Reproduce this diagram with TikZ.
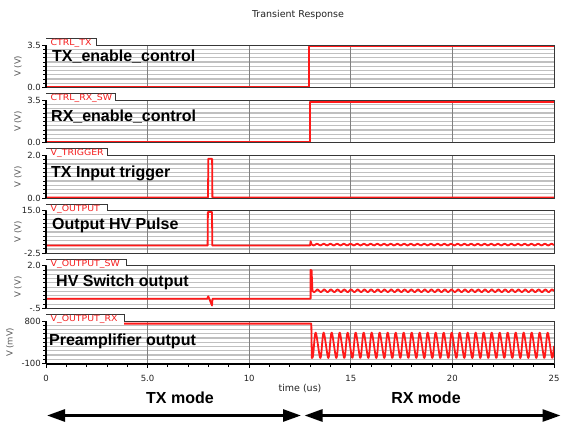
\documentclass[tikz,border=0pt]{standalone}
\usepackage{fontspec}
\setmainfont{Liberation Sans}
\newfontfamily\smallf{DejaVu Sans}
\usetikzlibrary{arrows.meta}
\definecolor{tracec}{RGB}{255,25,25}
\definecolor{gridc}{RGB}{192,192,192}
\definecolor{vgridc}{RGB}{128,128,128}
\definecolor{framec}{RGB}{55,55,55}
\definecolor{tagc}{RGB}{245,30,30}
\definecolor{txtc}{RGB}{35,35,35}
\definecolor{ylc}{RGB}{90,90,90}
\begin{document}
\begin{tikzpicture}[x=1pt,y=-1pt,
  trace/.style={draw=tracec,line width=1.8pt,line join=round},
  hgrid/.style={draw=gridc,line width=1.2pt},
  vgrid/.style={draw=vgridc,line width=0.8pt},
  frame/.style={draw=framec,line width=0.9pt},
  axisl/.style={draw=black,line width=1.8pt},
  tickl/.style={draw=black,line width=0.9pt},
  tagtxt/.style={text=tagc,font=\smallf\fontsize{8.5}{9}\selectfont,inner sep=0pt,anchor=base west,xscale=1.1},
  ticklbl/.style={text=txtc,font=\smallf\fontsize{8.5}{10}\selectfont,inner sep=0pt,anchor=east},
  xticklbl/.style={text=txtc,font=\smallf\fontsize{8.5}{10}\selectfont,inner sep=0pt,anchor=center},
  plabel/.style={font=\bfseries\fontsize{16}{19}\selectfont,inner sep=0pt,anchor=base west},
  ylbl/.style={text=ylc,font=\smallf\fontsize{8.5}{10}\selectfont,rotate=90,inner sep=0pt},
  modelbl/.style={font=\bfseries\fontsize{16}{19}\selectfont,inner sep=0pt,anchor=base},
  smalltxt/.style={text=txtc,font=\smallf\fontsize{9.5}{11}\selectfont,inner sep=0pt},
  modearrow/.style={draw=black,line width=2.8pt,{Triangle[length=18pt,width=12pt]}-{Triangle[length=18pt,width=12pt]}}
]
\useasboundingbox[fill=white] (0,0) rectangle (562,423);

% grids
\foreach \pT in {45,100.2,155.4,210.6,265.8,321}{
  \foreach \i in {1,...,9}{\draw[hgrid] (46,\pT+\i*4.26) -- (554,\pT+\i*4.26);}
  \foreach \t in {5,10,15,20}{\draw[vgrid] ({46+20.32*\t},\pT) -- ({46+20.32*\t},\pT+42.6);}
}

% traces (plot variable = number of ripple cycles)
\draw[trace] (46,87.1) -- (309.2,87.1) -- (309.2,46.5) -- (554,46.5);
\draw[trace] (46,142.3) -- (310.3,142.3) -- (310.3,102.2) -- (554,102.2);
\draw[trace] (46,197.5) -- (208,197.5) -- (208.3,158.8) -- (212.1,158.8) -- (212.4,197.5) -- (554,197.5);
\draw[trace] (46,245.5) -- (207.6,245.5) -- (207.9,212) -- (212,212) -- (212.3,245.5) -- (310,245.5)
  -- (310.6,241.3) -- (311.6,244.4) -- plot[domain=0:36.12,samples=300] ({312+6.7*\x},{244.6+0.8*sin(360*\x)});
\draw[trace] (46,298.7) -- (207.3,298.7) -- (208.2,296.3) -- (209.3,298.7) -- (211.2,303.5) -- (212,305.5)
  -- (212.5,298.7) -- (310.6,298.7) -- (310.6,269.8) -- (311.6,270.5) -- (312.3,288)
  -- plot[domain=0:36.04,samples=300] ({312.5+6.7*\x},{290.8+1.3*sin(360*\x)});
\draw[trace] (124,323.6) -- (311.3,323.6) -- (311.8,358)
  -- plot[domain=0:30.25,samples=520] ({312+8.0*\x},{345.3+12.2*cos(360*\x)+1.8*sin(720*(\x-floor(\x)))});

% frames, tags, axes
\foreach \k/\pT/\pR/\ptag/\pmax/\pmin/\pyl/\pylx in {
  1/45/96/{CTRL\_TX}/3.5/0.0/{V (V)}/18,
  2/100.2/115/{CTRL\_RX\_SW}/3.5/0.0/{V (V)}/18,
  3/155.4/107/{V\_TRIGGER}/2.0/0.0/{V (V)}/18,
  4/210.6/107/{V\_OUTPUT}/15.0/-2.5/{V (V)}/18,
  5/265.8/126/{V\_OUTPUT\_SW}/2.0/-.5/{V (V)}/18,
  6/321/124/{V\_OUTPUT\_RX}/800/-100/{V (mV)}/10}{
  \draw[frame] (46,\pT) rectangle (554,\pT+42.6);
  \fill[white] (46.5,\pT-6.5) rectangle (\pR,\pT+2);
  \draw[frame] (46,\pT-6.5) -- (\pR,\pT-6.5) -- (\pR,\pT);
  \node[tagtxt] (tag\k) at (50.5,\pT+0.5) {\ptag};
  \draw[axisl] (46,\pT) -- (46,\pT+42.6);
  \foreach \i in {1,...,9}{\draw[tickl] (46,\pT+\i*4.26) -- (43,\pT+\i*4.26);}
  \draw[tickl] (46,\pT) -- (41.5,\pT);
  \draw[tickl] (46,\pT+42.6) -- (41.5,\pT+42.6);
  \node[ticklbl] (ymax\k) at (41,\pT) {\pmax};
  \node[ticklbl] (ymin\k) at (41,\pT+42.6) {\pmin};
  \node[ylbl] (yl\k) at (\pylx,\pT+21.3) {\pyl};
}

% panel labels
\node[plabel] (lab1) at (52,61.5) {TX\_enable\_control};
\node[plabel] (lab2) at (51,121) {RX\_enable\_control};
\node[plabel] (lab3) at (51,177.3) {TX Input trigger};
\node[plabel] (lab4) at (52,229) {Output HV Pulse};
\node[plabel] (lab5) at (56,286.7) {HV Switch output};
\node[plabel] (lab6) at (49,345) {Preamplifier output};

% time axis
\draw[axisl] (46,363.6) -- (554,363.6);
\foreach \t in {0,...,25}{\draw[tickl] ({46+20.32*\t},363.6) -- ({46+20.32*\t},366.5);}
\foreach \t in {0,5,...,25}{\draw[tickl] ({46+20.32*\t},363.6) -- ({46+20.32*\t},368);}
\foreach \t/\lbl in {0/0,5/5.0,10/10,15/15,20/20,25/25}{
  \node[xticklbl] (xt\t) at ({46+20.32*\t},378) {\lbl};
}
\node[smalltxt] (title) at (298,15) {Transient Response};
\node[smalltxt] (tlab) at (300,388.5) {time (us)};

% modes
\node[modelbl] (txm) at (180,403.3) {TX mode};
\node[modelbl] (rxm) at (426,403) {RX mode};
\coordinate (txl) at (47,415.5);
\coordinate (txr) at (301,415.5);
\coordinate (rxl) at (304.5,415.5);
\coordinate (rxr) at (560.5,415.5);
\draw[modearrow] (txl) -- (txr);
\draw[modearrow] (rxl) -- (rxr);
\end{tikzpicture}
\end{document}
